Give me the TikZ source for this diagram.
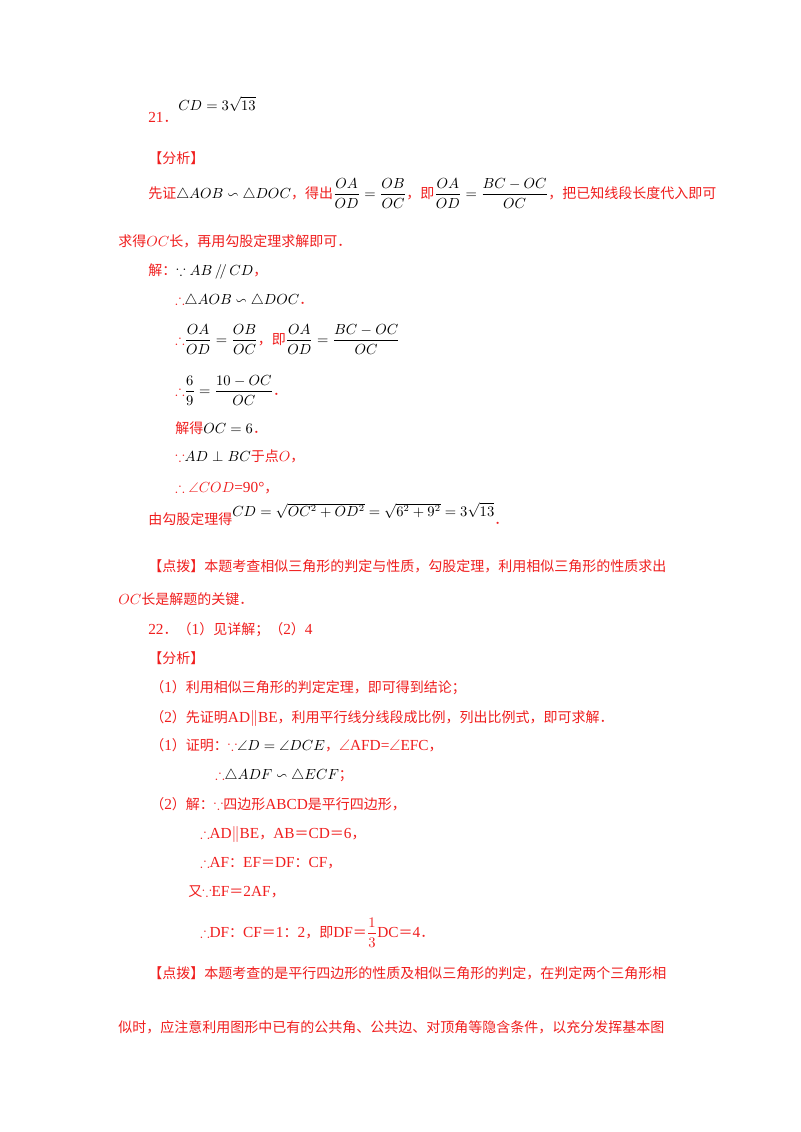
\documentclass[tikz,border=0pt]{standalone}
\usepackage{amsmath,amssymb}
\usepackage{fontspec}
\setmainfont{Liberation Serif}
\newfontfamily\cjk{Noto Sans CJK SC}
\definecolor{rd}{RGB}{240,30,30}
\newcommand{\K}[1]{{\color{black}#1}}
\newcommand{\Lt}[1]{{\rmfamily\fontsize{11.5}{12}\selectfont #1}}
\begin{document}
\begin{tikzpicture}[x=0.75pt,y=-0.75pt,
  t/.style={anchor=base west,inner sep=0pt,text=rd,font=\fontsize{10.5}{12}\selectfont\cjk}]
\useasboundingbox[fill=white] (0,0) rectangle (800,1132);
\node[t] (a1) at (148,122) {\Lt{21}．};
\node[t] (a2) at (178,110) {\K{$CD=3\sqrt{13}$}};
\node[t] (a3) at (148,163) {【分析】};
\node[t] (a4) at (148,198) {先证\K{$\triangle AOB\backsim\triangle DOC$}，得出\K{$\dfrac{OA}{OD}=\dfrac{OB}{OC}$}，即\K{$\dfrac{OA}{OD}=\dfrac{BC-OC}{OC}$}，把已知线段长度代入即可};
\node[t] (a5) at (118,246) {求得$OC$长，再用勾股定理求解即可．};
\node[t] (a6) at (148,275) {解：\K{$\because AB\,/\!/\,CD$}，};
\node[t] (a7) at (175,304) {$\therefore$\K{$\triangle AOB\backsim\triangle DOC$}．};
\node[t] (a8) at (175,344) {$\therefore$\K{$\dfrac{OA}{OD}=\dfrac{OB}{OC}$}，即\K{$\dfrac{OA}{OD}=\dfrac{BC-OC}{OC}$}};
\node[t] (a9) at (175,395) {$\therefore$\K{$\dfrac{6}{9}=\dfrac{10-OC}{OC}$}．};
\node[t] (a10) at (175,433) {解得\K{$OC=6$}．};
\node[t] (a11) at (175,461) {$\because$\K{$AD\perp BC$}于点$O$，};
\node[t] (a12) at (175,492) {$\therefore\angle COD$\Lt{=90°}，};
\node[t] (a13) at (148,524) {由勾股定理得\raisebox{6pt}{\K{$CD=\sqrt{OC^2+OD^2}=\sqrt{6^2+9^2}=3\sqrt{13}$}}．};
\node[t] (a14) at (148,571) {【点拨】本题考查相似三角形的判定与性质，勾股定理，利用相似三角形的性质求出};
\node[t] (a15) at (118,604) {$OC$长是解题的关键．};
\node[t] (b1) at (148,634) {\Lt{22}．（\Lt{1}）见详解；（\Lt{2}）\Lt{4}};
\node[t] (b2) at (148,663) {【分析】};
\node[t] (b3) at (150,692) {（\Lt{1}）利用相似三角形的判定定理，即可得到结论；};
\node[t] (b4) at (150,722) {（\Lt{2}）先证明\Lt{AD$\parallel$BE}，利用平行线分线段成比例，列出比例式，即可求解．};
\node[t] (b5) at (150,750) {（\Lt{1}）证明：$\because$\K{$\angle D=\angle DCE$}，\Lt{$\angle$AFD=$\angle$EFC}，};
\node[t] (b6) at (215,779) {$\therefore$\K{$\triangle ADF\backsim\triangle ECF$}；};
\node[t] (b7) at (150,809) {（\Lt{2}）解：$\because$四边形\Lt{ABCD}是平行四边形，};
\node[t] (b8) at (200,838) {$\therefore$\Lt{AD$\parallel$BE}，\Lt{AB}＝\Lt{CD}＝\Lt{6}，};
\node[t] (b9) at (200,867) {$\therefore$\Lt{AF}：\Lt{EF}＝\Lt{DF}：\Lt{CF}，};
\node[t] (b10) at (188,896) {又$\because$\Lt{EF}＝\Lt{2AF}，};
\node[t] (b11) at (200,937) {$\therefore$\Lt{DF}：\Lt{CF}＝\Lt{1}：\Lt{2}，即\Lt{DF}＝$\dfrac{1}{3}$\Lt{DC}＝\Lt{4}．};
\node[t] (c1) at (148,978) {【点拨】本题考查的是平行四边形的性质及相似三角形的判定，在判定两个三角形相};
\node[t] (c2) at (118,1032) {似时，应注意利用图形中已有的公共角、公共边、对顶角等隐含条件，以充分发挥基本图};
\end{tikzpicture}
\end{document}
